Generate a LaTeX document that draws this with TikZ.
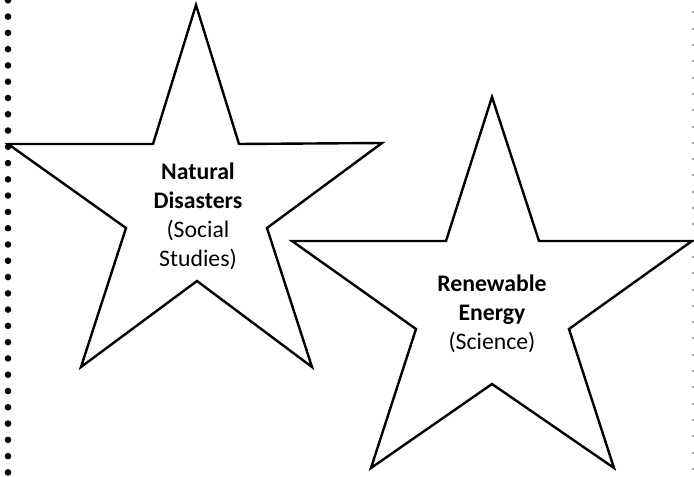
\documentclass[tikz,border=0pt]{standalone}
\usepackage{fontspec}
\setmainfont{Carlito}
\begin{document}
\begin{tikzpicture}[x=0.75pt,y=-0.75pt,
  starline/.style={draw=black,line width=1.8pt,line join=miter,fill=white},
  startext/.style={align=center,font=\fontsize{17.8}{21.8}\selectfont,inner sep=0pt},
  bigdot/.style={fill=black,draw=none},
  faintmark/.style={draw=black!35,line width=0.8pt}]
\useasboundingbox (0,0) rectangle (694,477);
% left dotted border
\foreach \k in {0,...,29}{
  \fill[bigdot] (8,{0.3+16.28*\k}) circle (3.3);
}
% right faint dotted border
\foreach \k in {0,...,28}{
  \draw[faintmark] (693,{11.5+16.3*\k}) -- (693,{13.5+16.3*\k});
}
% star 1
\coordinate (a1) at (196,5);
\coordinate (a2) at (239,144);
\coordinate (a3) at (382,143);
\coordinate (a4) at (267,228);
\coordinate (a5) at (312,367);
\coordinate (a6) at (197,281);
\coordinate (a7) at (81,367);
\coordinate (a8) at (126,228);
\coordinate (a9) at (8,144);
\coordinate (a10) at (153,144);
\draw[starline] (a1) -- (a2) -- (a3) -- (a4) -- (a5) -- (a6) -- (a7) -- (a8) -- (a9) -- (a10) -- cycle;
% star 2
\coordinate (b1) at (492,97);
\coordinate (b2) at (539,241);
\coordinate (b3) at (692,241);
\coordinate (b4) at (569,329);
\coordinate (b5) at (614,468);
\coordinate (b6) at (492,384);
\coordinate (b7) at (371,468);
\coordinate (b8) at (416,329);
\coordinate (b9) at (292,241);
\coordinate (b10) at (446,241);
\draw[starline] (b1) -- (b2) -- (b3) -- (b4) -- (b5) -- (b6) -- (b7) -- (b8) -- (b9) -- (b10) -- cycle;
% texts
\node[startext] (t1) at (198,216) {\textbf{Natural}\\\textbf{Disasters}\\(Social\\Studies)};
\node[startext] (t2) at (492,314) {\textbf{Renewable}\\\textbf{Energy}\\(Science)};
\end{tikzpicture}
\end{document}
